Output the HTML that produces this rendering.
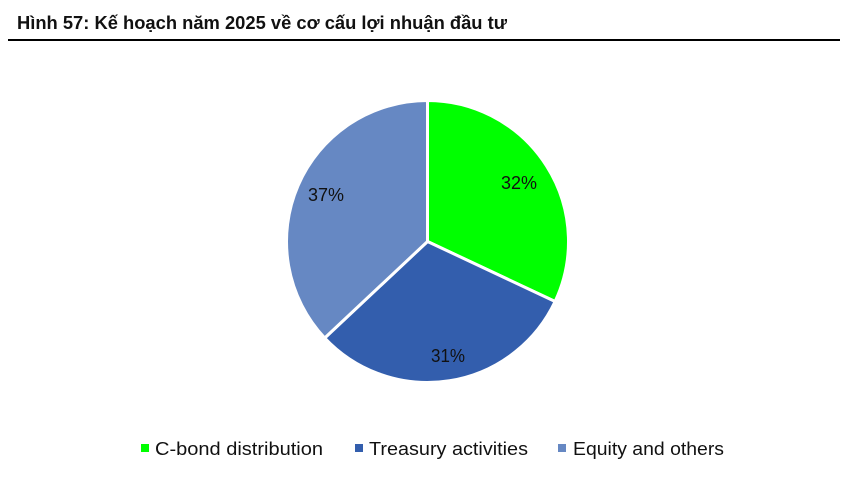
<!DOCTYPE html>
<html><head><meta charset="utf-8"><style>
html,body{margin:0;padding:0;background:#fff;width:857px;height:482px;overflow:hidden}
svg{display:block}
</style></head><body>
<svg width="857" height="482" viewBox="0 0 857 482" xmlns="http://www.w3.org/2000/svg">
<rect width="857" height="482" fill="#fff"/>
<text x="17" y="29" font-family="Liberation Sans, sans-serif" font-weight="bold" font-size="18" fill="#111" textLength="490" lengthAdjust="spacingAndGlyphs">Hình 57: Kế hoạch năm 2025 về cơ cấu lợi nhuận đầu tư</text>
<rect x="8" y="39" width="832" height="2" fill="#000"/>
<g stroke="#fff" stroke-width="3" stroke-linejoin="round">
<path d="M427.5,241.5 L427.5,100.5 A141,141 0 0 1 555.1,301.5 Z" fill="#00FF00"/>
<path d="M427.5,241.5 L555.1,301.5 A141,141 0 0 1 324.7,338.0 Z" fill="#335EAD"/>
<path d="M427.5,241.5 L324.7,338.0 A141,141 0 0 1 427.5,100.5 Z" fill="#6688C3"/>
</g>
<g font-family="Liberation Sans, sans-serif" font-size="18" fill="#111" text-anchor="middle">
<text x="519" y="189" textLength="36" lengthAdjust="spacingAndGlyphs">32%</text>
<text x="448" y="362" textLength="34" lengthAdjust="spacingAndGlyphs">31%</text>
<text x="326" y="201" textLength="36" lengthAdjust="spacingAndGlyphs">37%</text>
</g>
<g font-family="Liberation Sans, sans-serif" font-size="18" fill="#111">
<rect x="141" y="444" width="8" height="8" fill="#00FF00"/>
<text x="155" y="455" textLength="168" lengthAdjust="spacingAndGlyphs">C-bond distribution</text>
<rect x="355" y="444" width="8" height="8" fill="#335EAD"/>
<text x="369" y="455" textLength="159" lengthAdjust="spacingAndGlyphs">Treasury activities</text>
<rect x="558" y="444" width="8" height="8" fill="#6688C3"/>
<text x="573" y="455" textLength="151" lengthAdjust="spacingAndGlyphs">Equity and others</text>
</g>
</svg>
</body></html>
